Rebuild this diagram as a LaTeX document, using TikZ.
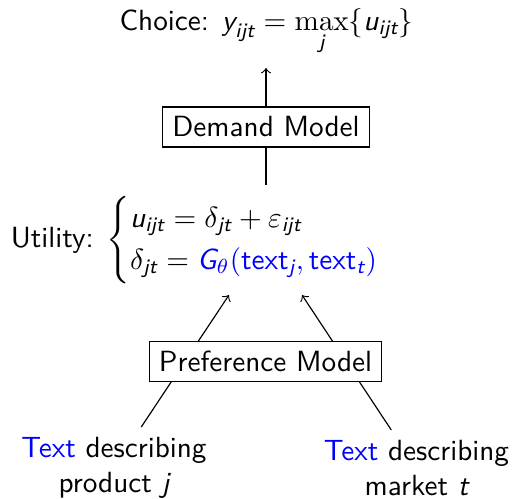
\documentclass[tikz,border=0pt]{standalone}
\usepackage{amsmath}
% sans italic / upright letters for use inside formulas
\newcommand\sv[1]{\text{\normalfont\sffamily\slshape #1}}
\newcommand\sr[1]{\text{\normalfont\sffamily #1}}
\begin{document}
\begin{tikzpicture}[x=0.3425pt, y=-0.3425pt, font=\sffamily,
  box/.style={draw, fill=white, line width=0.4pt},
  lbl/.style={align=center},
  conn/.style={line width=0.4pt}]
\useasboundingbox (0,0) rectangle (512,498);

% formulas
\node[anchor=base] (choice) at (266.5,30)
  {Choice: $\displaystyle \sv{y}_{\sv{ijt}} = \max_{\sv{j}}\{\sv{u}_{\sv{ijt}}\}$};
\node[anchor=base west] (utility) at (0.5,247)
  {Utility: $\begin{cases}
     \sv{u}_{\sv{ijt}} = \delta_{\sv{jt}} + \varepsilon_{\sv{ijt}}\\
     \delta_{\sv{jt}} = \color{blue}\sv{G}_\theta(\sr{text}_{\sv{j}}, \sr{text}_{\sv{t}})
   \end{cases}$};

% text inputs
\node[lbl, anchor=north] (ptext) at (114,427)
  {{\color{blue}Text} describing\\product $\sv{j}$};
\node[lbl, anchor=north] (mtext) at (416.5,430)
  {{\color{blue}Text} describing\\market $\sv{t}$};

% connector end points
\coordinate (gl) at (229,295);
\coordinate (gr) at (302,295);
\coordinate (dtop) at (266,68);
\coordinate (dbot) at (266,185);

% connectors, passing behind the model boxes
\draw[conn,->] (dbot) -- (dtop);
\draw[conn,->] (ptext) -- (gl);
\draw[conn,->] (mtext) -- (gr);

% model boxes
\node[box] (demand) at (266,127) {Demand Model};
\node[box] (pref) at (265.5,361.5) {Preference Model};
\end{tikzpicture}
\end{document}
